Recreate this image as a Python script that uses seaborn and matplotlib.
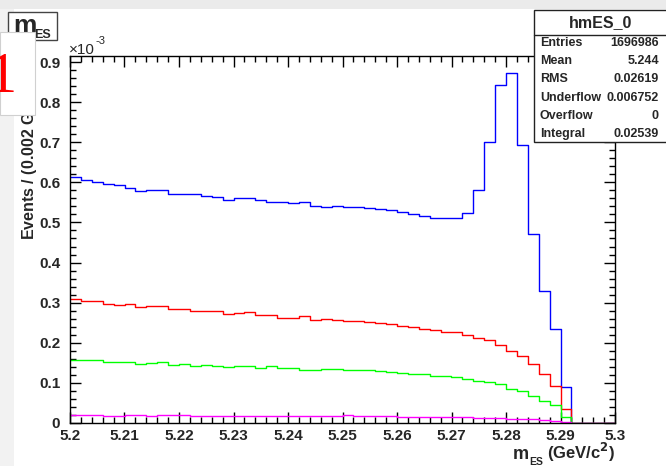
import numpy as np
import pandas as pd
import matplotlib
matplotlib.use("Agg")
import matplotlib.pyplot as plt
from matplotlib.patches import Rectangle
from matplotlib.ticker import MultipleLocator, FuncFormatter
import seaborn as sns

# mES histograms, 50 bins of 0.002 GeV/c^2 between 5.2 and 5.3 (units of 1e-3)
x_lo, x_hi, n_bins = 5.2, 5.3, 50

total = [0.613, 0.607, 0.600, 0.597, 0.593, 0.585, 0.579, 0.582, 0.580, 0.572,
         0.572, 0.570, 0.567, 0.563, 0.556, 0.560, 0.562, 0.556, 0.551, 0.551,
         0.548, 0.552, 0.542, 0.538, 0.541, 0.538, 0.539, 0.536, 0.533, 0.530,
         0.527, 0.520, 0.516, 0.512, 0.510, 0.511, 0.524, 0.582, 0.701, 0.842,
         0.872, 0.693, 0.470, 0.330, 0.234, 0.089, 0, 0, 0, 0]
red = [0.308, 0.304, 0.303, 0.297, 0.295, 0.296, 0.289, 0.292, 0.292, 0.284,
       0.285, 0.280, 0.279, 0.278, 0.272, 0.274, 0.277, 0.269, 0.270, 0.263,
       0.262, 0.267, 0.258, 0.259, 0.257, 0.255, 0.254, 0.251, 0.249, 0.246,
       0.242, 0.239, 0.235, 0.232, 0.228, 0.226, 0.220, 0.212, 0.207, 0.194,
       0.180, 0.166, 0.148, 0.122, 0.093, 0.035, 0, 0, 0, 0]
green = [0.157, 0.157, 0.156, 0.152, 0.152, 0.152, 0.148, 0.149, 0.153, 0.145,
         0.148, 0.143, 0.145, 0.143, 0.140, 0.142, 0.142, 0.138, 0.141, 0.136,
         0.138, 0.132, 0.133, 0.134, 0.134, 0.133, 0.132, 0.131, 0.129, 0.127,
         0.125, 0.123, 0.121, 0.118, 0.116, 0.114, 0.109, 0.105, 0.103, 0.097,
         0.086, 0.080, 0.068, 0.056, 0.045, 0.015, 0, 0, 0, 0]
magenta = [0.020, 0.019, 0.019, 0.018, 0.018, 0.019, 0.019, 0.018, 0.019, 0.019,
           0.019, 0.018, 0.018, 0.018, 0.018, 0.018, 0.018, 0.018, 0.018, 0.018,
           0.018, 0.018, 0.018, 0.018, 0.018, 0.019, 0.018, 0.017, 0.017, 0.017,
           0.016, 0.016, 0.016, 0.015, 0.015, 0.014, 0.014, 0.013, 0.013, 0.012,
           0.011, 0.010, 0.009, 0.007, 0.005, 0.002, 0, 0, 0, 0]

series = [(total, "#0000ff"), (red, "#ff0000"), (green, "#00ff00"), (magenta, "#ff00ff")]

stat_names = ["Entries", "Mean", "RMS", "Underflow", "Overflow", "Integral"]
stat_values = ["1696986", "5.244", "0.02619", "0.006752", "0", "0.02539"]

sns.set_theme(style="ticks")
plt.rcParams["font.family"] = ["Liberation Sans", "DejaVu Sans"]
plt.rcParams["font.weight"] = "bold"

W, H = 666, 466
fig = plt.figure(figsize=(W / 100, H / 100), dpi=100)
fig.patch.set_facecolor("white")


def fx(px):
    return px / W


def fy(py):
    return 1 - py / H


ax = fig.add_axes([fx(70), fy(423), fx(615) - fx(70), fy(56) - fy(423)])

edges = np.linspace(x_lo, x_hi, n_bins + 1)
centers = (edges[:-1] + edges[1:]) / 2
for vals, col in series:
    df = pd.DataFrame({"mes": centers, "w": vals})
    sns.histplot(data=df, x="mes", weights="w", bins=n_bins, binrange=(x_lo, x_hi),
                 element="step", fill=False, color=col, linewidth=1.0, ax=ax)

ax.set_xlim(x_lo, x_hi)
ax.set_ylim(0, 0.915)
ax.set_xlabel("")
ax.set_ylabel("")
ax.xaxis.set_major_locator(MultipleLocator(0.01))
ax.xaxis.set_minor_locator(MultipleLocator(0.002))
ax.yaxis.set_major_locator(MultipleLocator(0.1))
ax.yaxis.set_minor_locator(MultipleLocator(0.02))
ax.xaxis.set_major_formatter(FuncFormatter(lambda v, p: f"{v:.2f}".rstrip("0")))
ax.yaxis.set_major_formatter(FuncFormatter(lambda v, p: "0" if abs(v) < 1e-9 else f"{v:.1f}"))
ax.tick_params(which="both", direction="in", top=True, right=True, width=1, color="black")
ax.tick_params(which="major", length=8, labelsize=11)
ax.tick_params(which="minor", length=4)
ax.tick_params(axis="y", pad=7)
ax.tick_params(axis="x", pad=4)
for lab in ax.get_xticklabels() + ax.get_yticklabels():
    lab.set_fontweight("bold")
for sp in ax.spines.values():
    sp.set_color("black")
    sp.set_linewidth(1)

# window background strips
fig.patches.append(Rectangle((0, fy(9)), 1, 1 - fy(9), transform=fig.transFigure,
                             facecolor="#ebebeb", edgecolor="none", zorder=0))
fig.patches.append(Rectangle((0, 0), fx(14), fy(9), transform=fig.transFigure,
                             facecolor="#f2f2f2", edgecolor="none", zorder=0))

# axis titles
fig.text(fx(615), fy(459), "(GeV/c$^{\\mathbf{2}}$)", ha="right", va="baseline",
         fontsize=12, weight="bold")
fig.text(fx(513), fy(459), "m", ha="left", va="baseline", fontsize=13, weight="bold")
fig.text(fx(529), fy(465), "ES", ha="left", va="baseline", fontsize=7.5, weight="bold")
fig.text(fx(29), fy(64), "Events / (0.002 GeV/c$^{\\mathbf{2}}$)", rotation=90,
         ha="center", va="top", fontsize=11.5, weight="bold")

# exponent of the y axis
fig.text(fx(69), fy(54), "\u00d710", ha="left", va="baseline", fontsize=11, weight="normal")
fig.text(fx(96), fy(44), "-3", ha="left", va="baseline", fontsize=8, weight="normal")

# title box
fig.patches.append(Rectangle((fx(8), fy(40)), fx(57) - fx(8), fy(12) - fy(40),
                             transform=fig.transFigure, facecolor="white",
                             edgecolor="#444444", linewidth=1, zorder=3))
fig.text(fx(13), fy(33), "m", ha="left", va="baseline", fontsize=19, weight="bold", zorder=4)
fig.text(fx(34), fy(38), "ES", ha="left", va="baseline", fontsize=9, weight="bold", zorder=4)

# overlapping white panel with red digit
fig.patches.append(Rectangle((0, fy(115)), fx(35), fy(32) - fy(115),
                             transform=fig.transFigure, facecolor="white",
                             edgecolor="#d0d0d0", linewidth=0.8, zorder=5))
fig.text(fx(2), fy(92), "1", ha="center", va="baseline", fontsize=42, color="red",
         family=["Liberation Serif", "DejaVu Serif"], weight="normal", zorder=6)

# stats box
fig.patches.append(Rectangle((fx(534), fy(142)), fx(669) - fx(534), fy(10) - fy(142),
                             transform=fig.transFigure, facecolor="white",
                             edgecolor="#222222", linewidth=1, zorder=3))
fig.lines.append(plt.Line2D([fx(534), fx(669)], [fy(35), fy(35)], transform=fig.transFigure,
                            color="#222222", linewidth=1, zorder=4))
fig.text(fx(601), fy(23), "hmES_0", ha="center", va="center", fontsize=11.5,
         weight="bold", zorder=4)
row_y = [43, 61, 79, 98, 116, 134]
for name, val, yy in zip(stat_names, stat_values, row_y):
    fig.text(fx(540), fy(yy), name, ha="left", va="center", fontsize=9, weight="bold", zorder=4)
    fig.text(fx(659), fy(yy), val, ha="right", va="center", fontsize=9, weight="bold", zorder=4)

fig.savefig("out.png", dpi=100)
